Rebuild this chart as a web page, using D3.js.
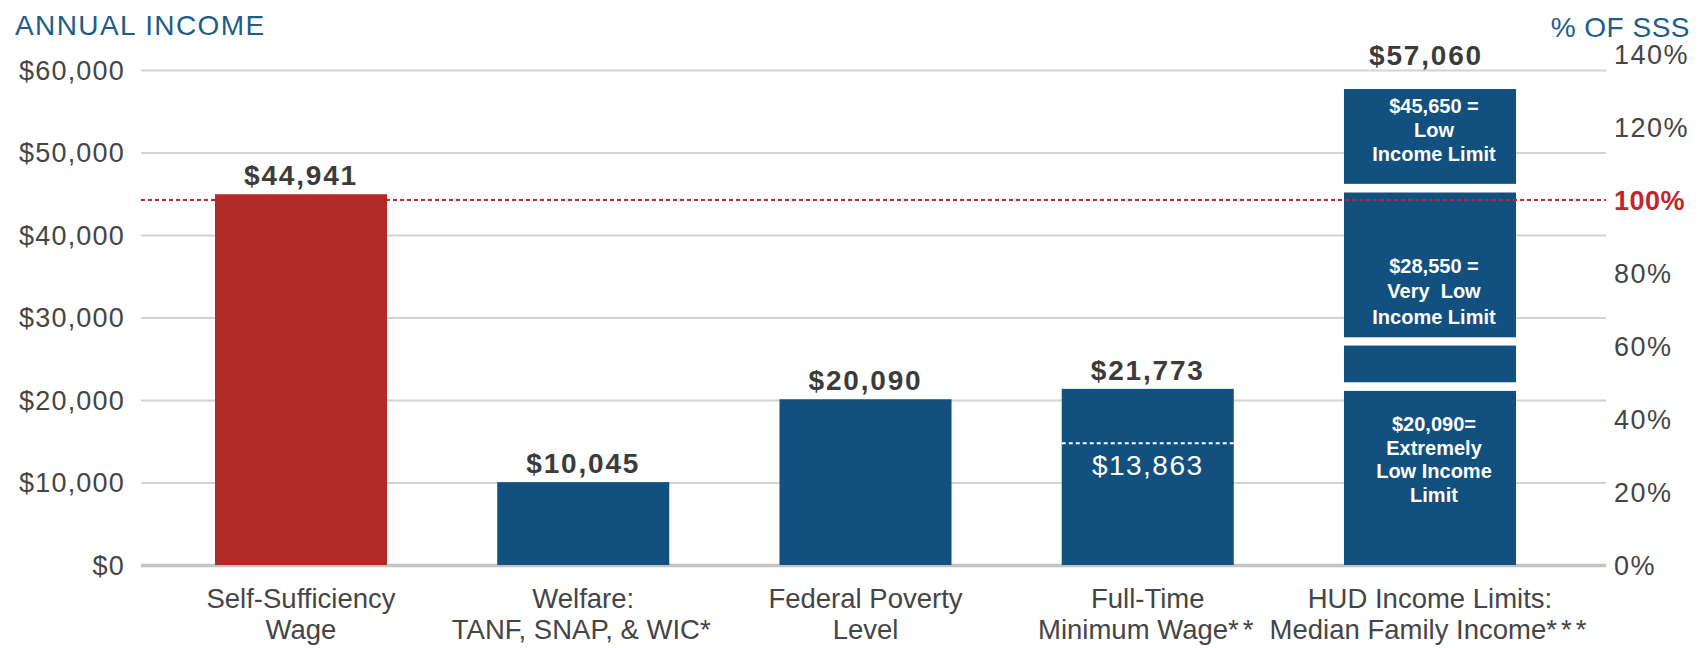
<!DOCTYPE html>
<html>
<head>
<meta charset="utf-8">
<script src="https://cdn.jsdelivr.net/npm/d3@7"></script>
<style>
  html, body { margin: 0; padding: 0; background: #fff; }
  svg { display: block; font-family: "Liberation Sans", Arial, sans-serif; }
</style>
</head>
<body>
<svg id="chart" width="1708" height="648"></svg>
<script>
// ---------------- DATA ----------------
const categories = [
  "Self-Sufficiency Wage",
  "Welfare: TANF, SNAP, & WIC*",
  "Federal Poverty Level",
  "Full-Time Minimum Wage**",
  "HUD Income Limits: Median Family Income***"
];
const categoryLines = [
  ["Self-Sufficiency", "Wage"],
  ["Welfare:", "TANF, SNAP, & WIC*"],
  ["Federal Poverty", "Level"],
  ["Full-Time", "Minimum Wage**"],
  ["HUD Income Limits:", "Median Family Income***"]
];
// simple bars (first four categories)
const barValues = [44941, 10045, 20090, 21350];
const barLabels = ["$44,941", "$10,045", "$20,090", "$21,773"];
// full-time minimum wage inner marker
const minWageInnerValue = 14750;
const minWageInnerLabel = "$13,863";
// HUD stacked segments
const hudSegLow  = [0, 22150, 27600, 46200];
const hudSegHigh = [21100, 26600, 45150, 57700];
const hudSegLabels = [
  ["$20,090=", "Extremely", "Low Income", "Limit"],
  [],
  ["$28,550 =", "Very  Low", "Income Limit"],
  ["$45,650 =", "Low", "Income Limit"]
];
const hudTopLabel = "$57,060";
// axes
const leftTicks = [0, 10000, 20000, 30000, 40000, 50000, 60000];
const rightTicks = [0, 20, 40, 60, 80, 100, 120, 140];
const sssPercentLine = 100;

// ---------------- LAYOUT ----------------
const svg = d3.select("#chart");
const RED = "#B12A25", BLUE = "#11507F", GRID = "#d3d3d3", TXT = "#454545";
const plotLeft = 141, plotRight = 1606, plotBottom = 565;

const y = d3.scaleLinear().domain([0, 60000]).range([plotBottom, 70]);
const y2 = d3.scaleLinear().domain([0, 140]).range([plotBottom, 54]);
const x = d3.scaleBand().domain(categories).range([215, 1516])
  .paddingInner(0.3905).paddingOuter(0);

// titles
svg.append("text").attr("x", 15).attr("y", 35)
  .attr("font-size", 28).attr("fill", "#1E5C8A").style("letter-spacing", "1.4px")
  .text("ANNUAL INCOME");
svg.append("text").attr("x", 1690).attr("y", 37).attr("text-anchor", "end")
  .attr("font-size", 28).attr("fill", "#1E5C8A").style("letter-spacing", "0.5px")
  .text("% OF SSS");

// left axis + gridlines
const gL = svg.append("g").attr("transform", `translate(${plotLeft},0)`)
  .call(d3.axisLeft(y).tickValues(leftTicks)
    .tickFormat(d => "$" + d3.format(",")(d))
    .tickSize(-(plotRight - plotLeft)).tickPadding(16));
gL.select(".domain").remove();
gL.selectAll(".tick line").attr("stroke", GRID).attr("stroke-width", 2.2);
gL.selectAll(".tick").filter(d => d === 0).select("line")
  .attr("stroke", "#c4c4c4").attr("stroke-width", 3.5);
gL.selectAll(".tick text").attr("font-size", 27).attr("fill", TXT)
  .attr("font-family", "Liberation Sans, Arial, sans-serif")
  .style("letter-spacing", "1.2px").attr("dy", "0.35em");

// right axis
const gR = svg.append("g").attr("transform", `translate(${plotRight},0)`)
  .call(d3.axisRight(y2).tickValues(rightTicks).tickFormat(d => d + "%")
    .tickSize(0).tickPadding(8));
gR.select(".domain").remove();
gR.selectAll(".tick text").attr("font-size", 27).attr("fill", TXT)
  .attr("font-family", "Liberation Sans, Arial, sans-serif")
  .style("letter-spacing", "1.5px").attr("dy", "0.35em");
gR.selectAll(".tick").filter(d => d === sssPercentLine).select("text")
  .attr("fill", "#C0272D").attr("font-weight", "bold").style("letter-spacing", "0.5px");

// simple bars
const simple = categories.slice(0, 4).map((c, i) => ({ c, v: barValues[i], label: barLabels[i], i }));
svg.append("g").selectAll("rect").data(simple).join("rect")
  .attr("x", d => x(d.c)).attr("width", x.bandwidth())
  .attr("y", d => y(d.v)).attr("height", d => y(0) - y(d.v))
  .attr("fill", d => d.i === 0 ? RED : BLUE);

svg.append("g").selectAll("text").data(simple).join("text")
  .attr("x", d => x(d.c) + x.bandwidth() / 2).attr("y", d => y(d.v) - 9)
  .attr("text-anchor", "middle").attr("font-size", 28).attr("font-weight", "bold")
  .attr("fill", "#3b3b3b").style("letter-spacing", "1.8px")
  .text(d => d.label);

// full-time inner dashed marker
const ftX = x(categories[3]);
svg.append("line")
  .attr("x1", ftX).attr("x2", ftX + x.bandwidth())
  .attr("y1", y(minWageInnerValue)).attr("y2", y(minWageInnerValue))
  .attr("stroke", "#fff").attr("stroke-width", 2).attr("stroke-dasharray", "4,3");
svg.append("text")
  .attr("x", ftX + x.bandwidth() / 2).attr("y", y(minWageInnerValue) + 32)
  .attr("text-anchor", "middle").attr("font-size", 28).attr("fill", "#fff")
  .style("letter-spacing", "1.5px").text(minWageInnerLabel);

// HUD segments
const hudX = x(categories[4]);
const segs = hudSegLow.map((lo, i) => ({ lo, hi: hudSegHigh[i], lines: hudSegLabels[i], i }));
svg.append("g").selectAll("rect").data(segs).join("rect")
  .attr("x", hudX).attr("width", x.bandwidth())
  .attr("y", d => y(d.hi)).attr("height", d => y(d.lo) - y(d.hi))
  .attr("fill", BLUE);

const segTextOffset = [40, 0, 80, 24];
const segLineH = [23.7, 24, 25.5, 24];
segs.forEach(s => {
  if (!s.lines.length) return;
  const t = svg.append("text").attr("text-anchor", "middle")
    .attr("font-size", 20).attr("font-weight", "bold").attr("fill", "#fff");
  s.lines.forEach((ln, k) => {
    t.append("tspan").attr("x", hudX + x.bandwidth() / 2 + 4)
      .attr("y", y(s.hi) + segTextOffset[s.i] + k * segLineH[s.i])
      .style("white-space", "pre").attr("xml:space", "preserve")
      .text(ln);
  });
});

svg.append("text")
  .attr("x", hudX + x.bandwidth() / 2 - 4).attr("y", y(hudSegHigh[3]) - 24)
  .attr("text-anchor", "middle").attr("font-size", 28).attr("font-weight", "bold")
  .attr("fill", "#3b3b3b").style("letter-spacing", "1.8px").text(hudTopLabel);

// 100% SSS dashed line
svg.append("line")
  .attr("x1", plotLeft).attr("x2", plotRight)
  .attr("y1", y2(sssPercentLine)).attr("y2", y2(sssPercentLine))
  .attr("stroke", "#C0272D").attr("stroke-width", 2).attr("stroke-dasharray", "4,3");

// category labels
const catG = svg.append("g").selectAll("text").data(categories).join("text")
  .attr("text-anchor", "middle").attr("font-size", 27.5).attr("fill", TXT);
catG.each(function(c, i) {
  const cx = x(c) + x.bandwidth() / 2;
  categoryLines[i].forEach((ln, k) => {
    const m = ln.match(/^(.*?)(\**)$/);
    const ts = d3.select(this).append("tspan").attr("x", cx).attr("y", 608 + k * 31);
    ts.append("tspan").text(m[1]);
    if (m[2]) ts.append("tspan").style("letter-spacing", "4px").text(m[2]);
  });
});
</script>
</body>
</html>
